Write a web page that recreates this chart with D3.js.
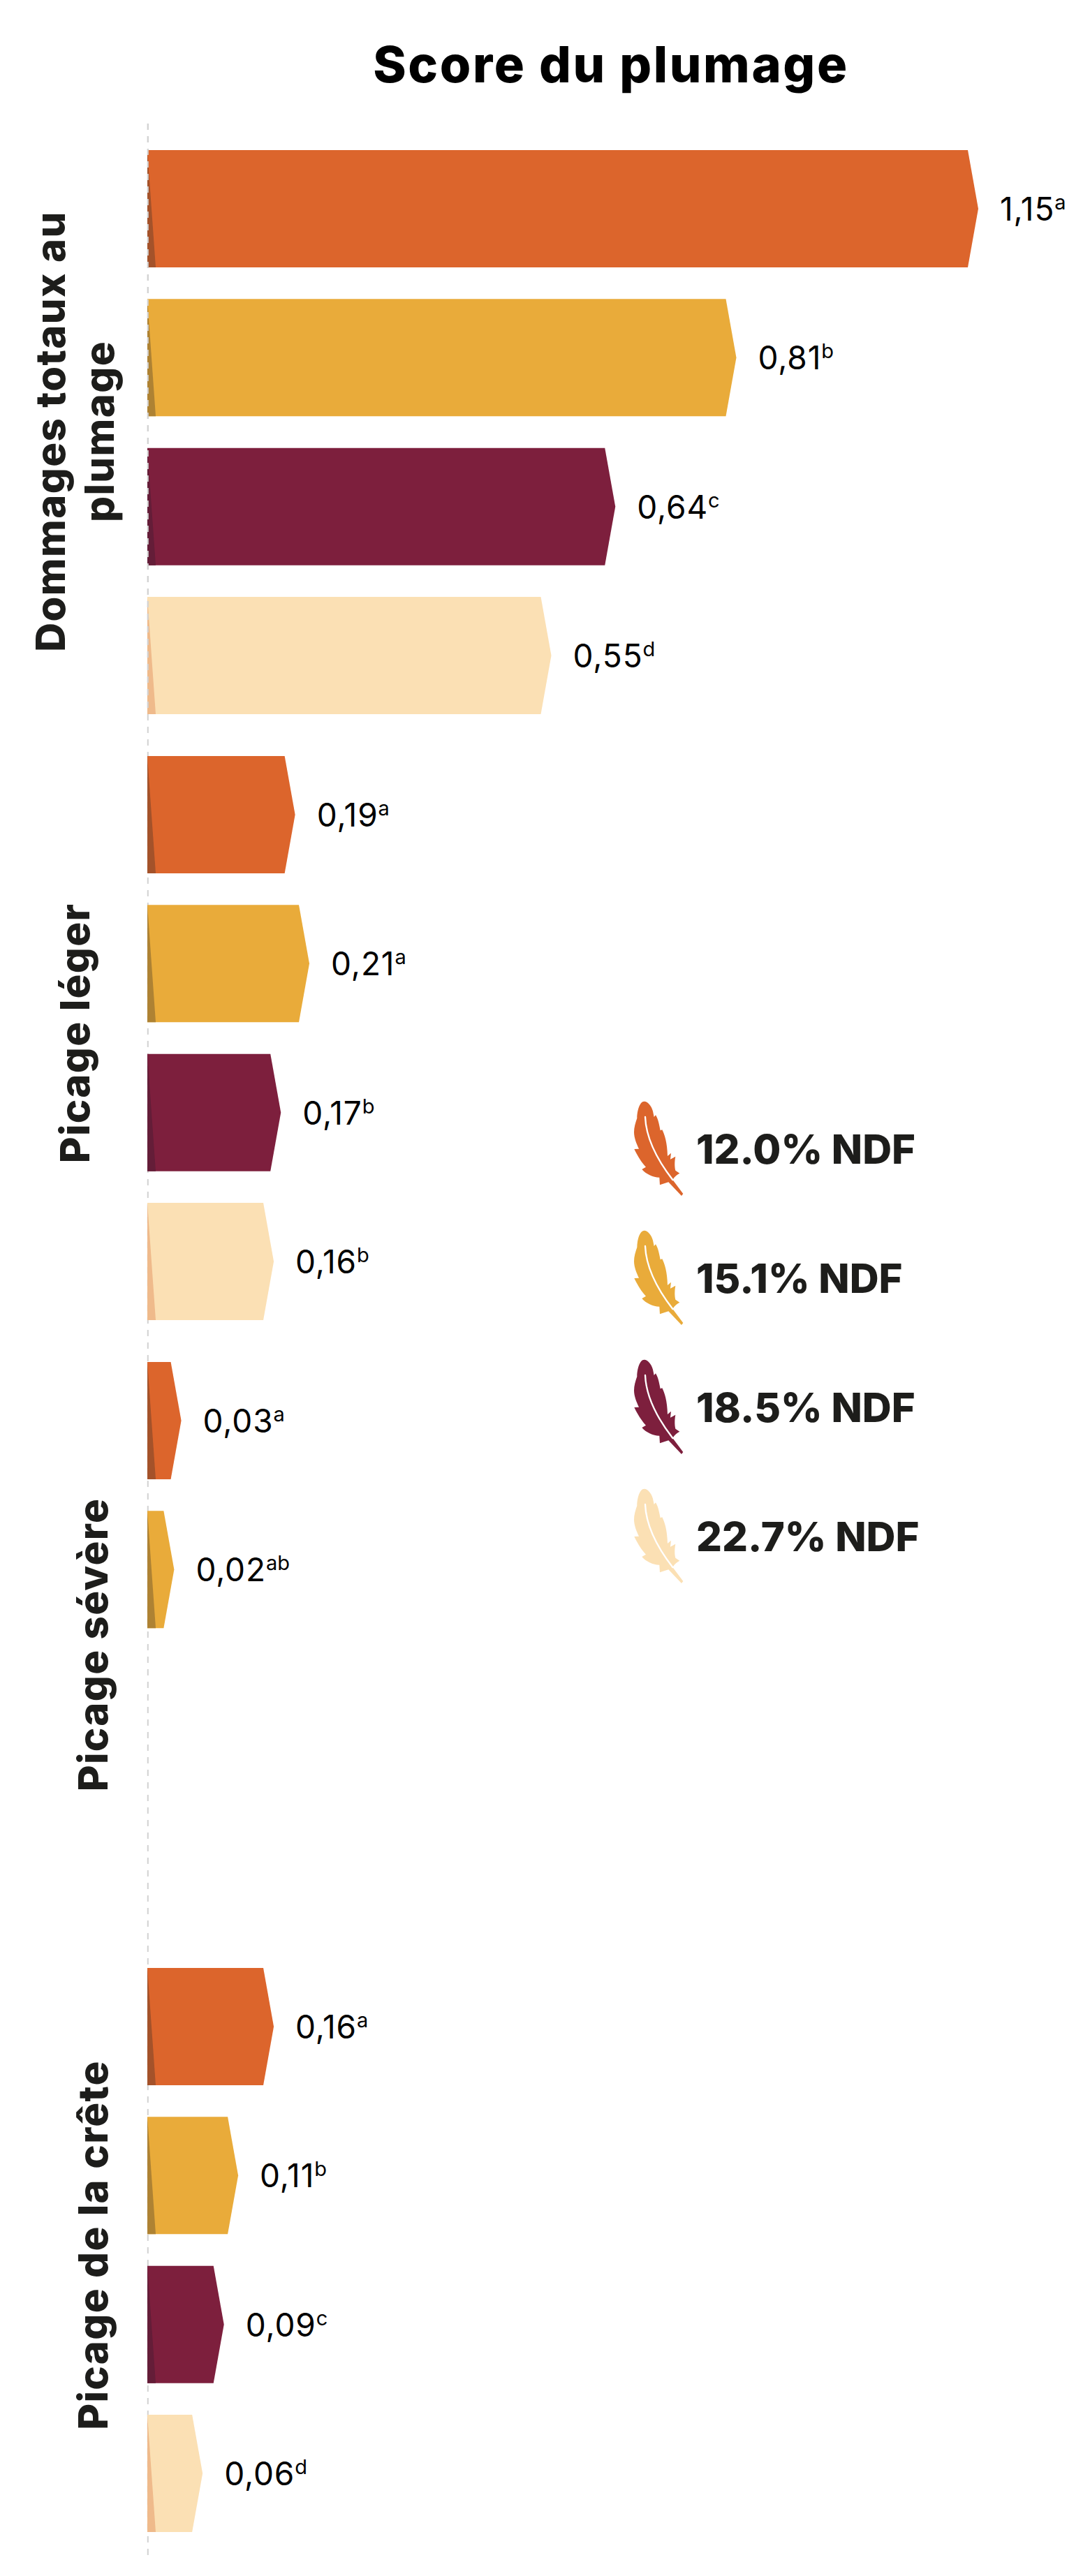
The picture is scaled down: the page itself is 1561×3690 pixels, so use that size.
<!DOCTYPE html>
<html><head><meta charset="utf-8">
<script src="https://cdn.jsdelivr.net/npm/d3@7"></script>
<style>html,body{margin:0;background:#fff}svg{display:block}</style></head>
<body><svg id="c" width="1561" height="3690"></svg>
<script>
const groups = ["Dommages totaux au plumage","Picage léger","Picage sévère","Picage de la crête"];
const groupLines = [["Dommages totaux au","plumage"],["Picage léger"],["Picage sévère"],["Picage de la crête"]];
const treatments = ["12.0% NDF","15.1% NDF","18.5% NDF","22.7% NDF"];
const dommages = [1.15,0.81,0.64,0.55];
const leger = [0.19,0.21,0.17,0.16];
const severe = [0.03,0.02,null,null];
const crete = [0.16,0.11,0.09,0.06];
const dommagesSig = ["a","b","c","d"];
const legerSig = ["a","a","b","b"];
const severeSig = ["a","ab","",""];
const creteSig = ["a","b","c","d"];
const colors = ["#dc652c","#e9ab3a","#7d1f3d","#fbe0b4"];
const shades = ["#a4522a","#ae8233","#641d38","#efba8b"];
const title = "Score du plumage";

const valuesByGroup = [dommages,leger,severe,crete];
const sigByGroup = [dommagesSig,legerSig,severeSig,creteSig];
const svg = d3.select("#c");
const F = "Inter, 'Open Sans', sans-serif";

const x = d3.scaleLinear().domain([0,1.15]).range([214,1386]);
const gy = d3.scaleBand().domain(groups).range([215,3687]);
const iy = d3.scaleBand().domain(treatments).range([0,808]).paddingInner(45.3/213.3);
const barH = iy.bandwidth();
const x0 = 211, tip = 15;

function dashLine(y2){
  svg.append("line").attr("x1",211.8).attr("x2",211.8).attr("y1",177).attr("y2",y2)
    .attr("stroke","#d2d2d2").attr("stroke-width",2).attr("stroke-dasharray","9 9");
}
dashLine(3668);

svg.append("text").attr("x",875).attr("y",118).attr("text-anchor","middle")
  .attr("font-family",F).attr("font-weight",800).attr("font-size",72).attr("letter-spacing",2.6)
  .attr("fill","#000").text(title);

const labelX = [[93,163],[128],[154],[154]];
const labelC = [618,1480,2356,3216];

groups.forEach((g,gi)=>{
  const grp = svg.append("g");
  const rows = treatments.map((t,i)=>({t,i,v:valuesByGroup[gi][i],s:sigByGroup[gi][i]})).filter(d=>d.v!=null);
  const bar = grp.selectAll("g.b").data(rows).join("g").attr("class","b")
    .attr("transform",d=>`translate(0,${gy(g)+iy(d.t)})`);
  bar.append("path").attr("fill",d=>colors[d.i])
    .attr("d",d=>{const p=d3.path();p.moveTo(x0,0);p.lineTo(x(d.v),0);p.lineTo(x(d.v)+tip,barH/2);p.lineTo(x(d.v),barH);p.lineTo(x0,barH);p.closePath();return p.toString();});
  bar.append("path").attr("fill",d=>shades[d.i])
    .attr("d",()=>{const p=d3.path();p.moveTo(x0,0);p.lineTo(x0+12,barH);p.lineTo(x0,barH);p.closePath();return p.toString();});
  const t = bar.append("text").attr("x",d=>x(d.v)+tip+31).attr("y",barH/2+17)
    .attr("font-family",F).attr("font-weight",400).attr("font-size",46).attr("fill","#000");
  t.append("tspan").attr("letter-spacing",0.9).text(d=>d3.format(".2f")(d.v).replace(".",","));
  t.append("tspan").attr("font-size",29).attr("dy",-16).text(d=>d.s);
  groupLines[gi].forEach((ln,li)=>{
    svg.append("text").attr("transform",`translate(${labelX[gi][li]},${labelC[gi]}) rotate(-90)`)
      .attr("text-anchor","middle").attr("font-family",F).attr("font-weight",800)
      .attr("font-size",58).attr("letter-spacing",1.4).attr("fill","#1d1d1b").text(ln);
  });
});
// the line runs over the first group of bars only
dashLine(1023);

// legend
const featherOutline = "M128,83 C142,83 158,100 165,125 L170,150 L177,142 C185,155 190,170 197,208 L205,205 C215,225 227,260 228,318 L243,305 L240,332 L262,320 C258,340 258,365 262,380 L280,392 C270,397 258,405 250,420 L295,480 L288,489 L232,430 L195,442 L193,410 C165,410 135,395 118,375 L135,365 C120,350 100,320 85,288 L105,287 C95,265 84,240 84,215 C84,195 90,175 97,155 C97,125 108,83 128,83 Z";
const quill = "M132,150 C135,225 165,310 250,420";
const ly = d3.scalePoint().domain(treatments).range([0,555]);
const leg = svg.selectAll("g.l").data(treatments).join("g").attr("class","l")
  .attr("transform",t=>`translate(0,${ly(t)})`);
leg.append("g").attr("transform","translate(880,1550) scale(0.3333)").each(function(t,i){
  const f=d3.select(this);
  f.append("path").attr("d",featherOutline).attr("fill",colors[i]);
  f.append("path").attr("d",quill).attr("fill","none").attr("stroke","#fff").attr("stroke-width",7).attr("stroke-linecap","round");
});
leg.append("text").attr("x",997).attr("y",1667).attr("font-family",F).attr("font-weight",800)
  .attr("font-size",58).attr("letter-spacing",0).attr("fill","#1d1d1b").text(t=>t);
</script></body></html>
